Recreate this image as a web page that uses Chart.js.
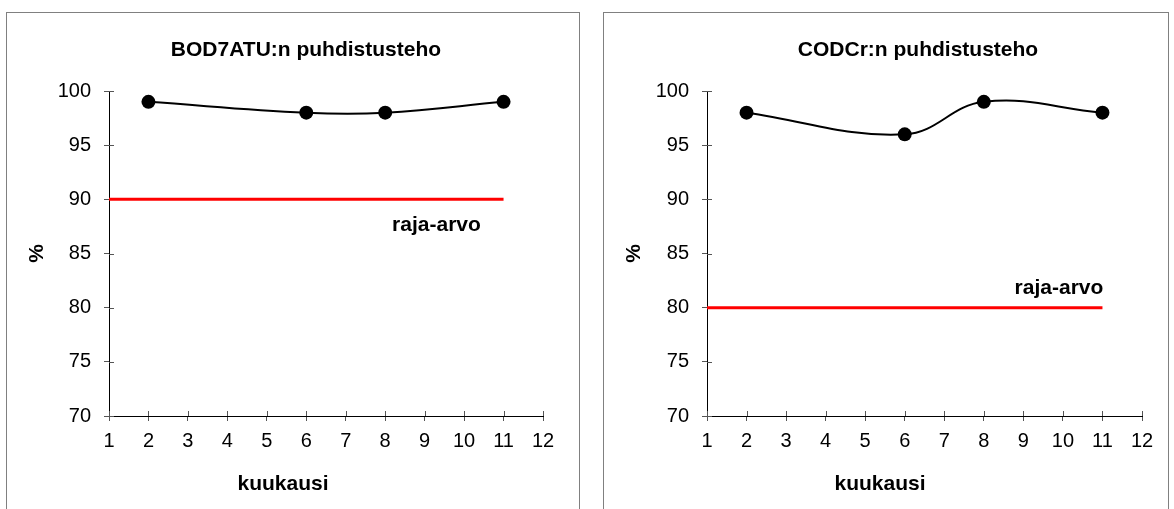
<!DOCTYPE html>
<html lang="fi">

<head>
    <meta charset="UTF-8">
    <title>Puhdistusteho</title>
    <script src="https://cdn.jsdelivr.net/npm/chart.js@4.4.1/dist/chart.umd.min.js"></script>
    <style>
    body {
        margin: 0;
        width: 1174px;
        height: 509px;
        overflow: hidden;
        background: #fff;
        font-family: "Liberation Sans", Arial, sans-serif;
        position: relative;
    }

    .panel {
        position: absolute;
        top: 12px;
        height: 520px;
        border: 1px solid #808080;
        border-bottom: none;
    }

    .panel canvas {
        position: absolute;
        left: 0;
        top: 0;
    }

    .panel h4,
    .panel .xtitle {
        position: absolute;
        margin: 0;
        font-size: 21px;
        line-height: 24px;
        font-weight: bold;
        color: #000;
        white-space: nowrap;
        transform: translateX(-50%);
    }

    .panel .xtitle {
        top: 458px;
        left: 276px;
    }
    </style>
</head>

<body>
    <div class="panel" style="left: 6px; width: 572px;">
        <canvas id="bodChart" width="572" height="496"></canvas>
        <h4 style="left: 299px; top: 24px;">BOD7ATU:n puhdistusteho</h4>
        <div class="xtitle">kuukausi</div>
    </div>
    <div class="panel" style="left: 603px; width: 564px;">
        <canvas id="codChart" width="564" height="496"></canvas>
        <h4 style="left: 314px; top: 24px;">CODCr:n puhdistusteho</h4>
        <div class="xtitle">kuukausi</div>
    </div>

    <script>
    // measured months and removal efficiency (%)
    var MONTHS = [2, 6, 8, 11];
    var BOD_VALUES = [99, 98, 98, 99];
    var COD_VALUES = [98, 96, 99, 98];

    // permit limits, drawn from month 1 to month 11
    var LIMIT_MONTHS = [1, 11];
    var BOD_LIMIT = 90;
    var COD_LIMIT = 80;

    // axis ticks
    var MONTH_TICKS = [1, 2, 3, 4, 5, 6, 7, 8, 9, 10, 11, 12];
    var PERCENT_TICKS = [70, 75, 80, 85, 90, 95, 100];

    var FONT = '"Liberation Sans", Arial, sans-serif';

    // short tick marks on the inner side of the axes, so ticks cross the axis line
    var crossTicks = {
        id: 'crossTicks',
        beforeDatasetsDraw: function(chart) {
            var ctx = chart.ctx;
            var area = chart.chartArea;
            var x = chart.scales.x;
            var y = chart.scales.y;
            ctx.save();
            ctx.strokeStyle = '#555';
            ctx.lineWidth = 1;
            ctx.beginPath();
            x.ticks.forEach(function(t) {
                var px = Math.round(x.getPixelForValue(t.value)) + 0.5;
                ctx.moveTo(px, area.bottom);
                ctx.lineTo(px, area.bottom - 5);
            });
            y.ticks.forEach(function(t) {
                var py = Math.round(y.getPixelForValue(t.value)) + 0.5;
                ctx.moveTo(area.left, py);
                ctx.lineTo(area.left + 5, py);
            });
            ctx.stroke();
            ctx.restore();
        }
    };

    // "raja-arvo" caption next to the limit line
    var limitLabel = {
        id: 'limitLabel',
        afterDatasetsDraw: function(chart, args, opts) {
            var ctx = chart.ctx;
            ctx.save();
            ctx.font = 'bold 21px ' + FONT;
            ctx.fillStyle = '#000';
            ctx.textAlign = 'center';
            ctx.textBaseline = 'alphabetic';
            ctx.fillText(opts.text, chart.scales.x.getPixelForValue(opts.x), chart.scales.y.getPixelForValue(opts.y));
            ctx.restore();
        }
    };

    function makeChart(id, values, limit, axisWidth, padRight, labelAt) {
        var points = MONTHS.map(function(m, i) {
            return { x: m, y: values[i] };
        });
        var limitLine = LIMIT_MONTHS.map(function(m) {
            return { x: m, y: limit };
        });

        return new Chart(document.getElementById(id), {
            type: 'line',
            data: {
                datasets: [{
                        data: limitLine,
                        borderColor: '#ff0000',
                        borderWidth: 3,
                        pointRadius: 0,
                        tension: 0
                    },
                    {
                        data: points,
                        borderColor: '#000',
                        borderWidth: 2,
                        backgroundColor: '#000',
                        pointRadius: 7,
                        pointBorderWidth: 0,
                        pointBackgroundColor: '#000',
                        tension: 0.4
                    }
                ]
            },
            options: {
                responsive: false,
                animation: false,
                layout: {
                    padding: { left: 0, right: padRight, top: 78, bottom: 0 }
                },
                plugins: {
                    legend: { display: false },
                    tooltip: { enabled: false },
                    limitLabel: { text: 'raja-arvo', x: labelAt[0], y: labelAt[1] }
                },
                scales: {
                    x: {
                        type: 'linear',
                        min: MONTH_TICKS[0],
                        max: MONTH_TICKS[MONTH_TICKS.length - 1],
                        afterBuildTicks: function(scale) {
                            scale.ticks = MONTH_TICKS.map(function(v) { return { value: v }; });
                        },
                        afterFit: function(scale) {
                            scale.height = 93;
                        },
                        grid: {
                            drawOnChartArea: false,
                            tickLength: 5,
                            tickColor: '#555'
                        },
                        border: { color: '#000', width: 1 },
                        ticks: {
                            color: '#000',
                            padding: 8,
                            font: { family: FONT, size: 20 }
                        }
                    },
                    y: {
                        min: PERCENT_TICKS[0],
                        max: PERCENT_TICKS[PERCENT_TICKS.length - 1],
                        afterBuildTicks: function(scale) {
                            scale.ticks = PERCENT_TICKS.map(function(v) { return { value: v }; });
                        },
                        afterFit: function(scale) {
                            scale.width = axisWidth;
                        },
                        grid: {
                            drawOnChartArea: false,
                            tickLength: 5,
                            tickColor: '#555'
                        },
                        border: { color: '#000', width: 1 },
                        ticks: {
                            color: '#000',
                            padding: 13,
                            font: { family: FONT, size: 20 }
                        },
                        title: {
                            display: true,
                            text: '%',
                            color: '#000',
                            padding: { top: 18, bottom: 0 },
                            font: { family: FONT, size: 21, weight: 'bold' }
                        }
                    }
                }
            },
            plugins: [crossTicks, limitLabel]
        });
    }

    makeChart('bodChart', BOD_VALUES, BOD_LIMIT, 102, 36, [9.3, 87.1]);
    makeChart('codChart', COD_VALUES, COD_LIMIT, 103, 26, [9.9, 81.3]);
    </script>
</body>

</html>
